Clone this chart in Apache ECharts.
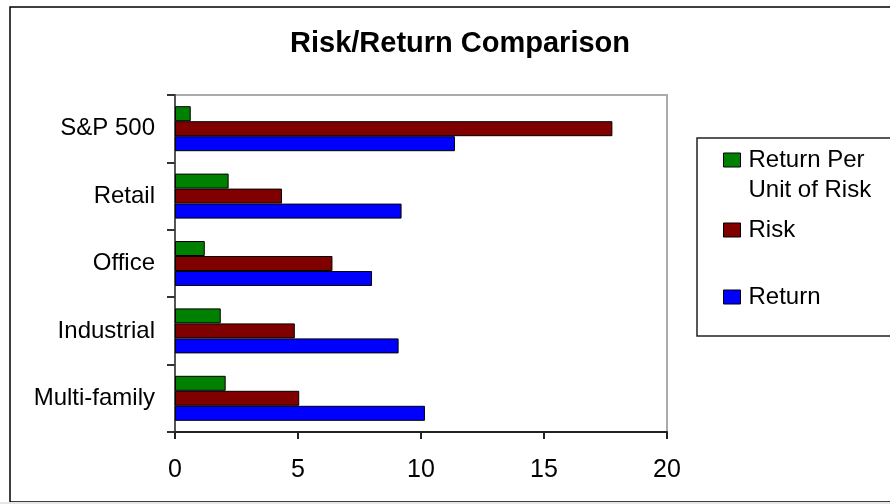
<!DOCTYPE html>
<html>
<head>
<meta charset="utf-8">
<script src="https://cdn.jsdelivr.net/npm/echarts@6/dist/echarts.min.js"></script>
<style>
  html, body { margin: 0; padding: 0; background: #fff; }
  #chart { width: 890px; height: 504px; }
</style>
</head>
<body>
<div id="chart"></div>
<script>
// Categories listed top to bottom
var categories = ['S&P 500', 'Retail', 'Office', 'Industrial', 'Multi-family'];
var returnPerRisk = [0.64, 2.18, 1.21, 1.86, 2.06];
var risk = [17.78, 4.35, 6.40, 4.87, 5.05];
var returns = [11.38, 9.21, 8.01, 9.09, 10.16];
var xTicks = [0, 5, 10, 15, 20];

var FONT = '"Liberation Sans", Arial, sans-serif';

var chart = echarts.init(document.getElementById('chart'), null, { renderer: 'canvas' });

function barSeries(name, data, color) {
  return {
    name: name,
    type: 'bar',
    data: data,
    barWidth: 15,
    barGap: '0%',
    itemStyle: { color: color, borderColor: '#000', borderWidth: 1 },
    emphasis: { disabled: true }
  };
}

// One legend block per series so each entry can sit at its own height
function legendAt(name, top) {
  return {
    data: [name],
    orient: 'vertical',
    left: 723,
    top: top,
    padding: 0,
    icon: 'rect',
    itemWidth: 17,
    itemHeight: 14,
    selectedMode: false,
    itemStyle: { borderColor: '#000', borderWidth: 1 },
    // the long name wraps onto a second line below the swatch row;
    // a leading blank line keeps the first text line level with the swatch
    formatter: function (n) { return n === 'Return Per Unit of Risk' ? ' \nReturn Per\nUnit of Risk' : n; },
    textStyle: {
      fontFamily: FONT, fontSize: 24, lineHeight: 30, color: '#000',
      padding: [0, 0, 0, 3]
    }
  };
}

chart.setOption({
  animation: false,
  backgroundColor: '#fff',
  title: {
    text: 'Risk/Return Comparison',
    left: 460,
    top: 27,
    textAlign: 'center',
    padding: 0,
    textStyle: { fontFamily: FONT, fontSize: 29, fontWeight: 'bold', color: '#000', lineHeight: 34 }
  },
  legend: [
    legendAt('Return Per Unit of Risk', 115),
    legendAt('Risk', 215),
    legendAt('Return', 282)
  ],
  grid: {
    left: 175, top: 95, right: 223, bottom: 72,
    show: true, borderColor: '#aaa', borderWidth: 2, backgroundColor: '#fff'
  },
  xAxis: {
    type: 'value',
    min: xTicks[0],
    max: xTicks[xTicks.length - 1],
    interval: 5,
    axisLine: { show: true, lineStyle: { color: '#222', width: 2 } },
    axisTick: { show: true, length: 7, lineStyle: { color: '#222', width: 2 } },
    splitLine: { show: false },
    axisLabel: { fontFamily: FONT, fontSize: 25, color: '#000', margin: 26 }
  },
  yAxis: {
    type: 'category',
    data: categories,
    inverse: true,
    axisLine: { show: true, lineStyle: { color: '#555', width: 2 } },
    axisTick: { show: true, length: 8, lineStyle: { color: '#333', width: 2 } },
    axisLabel: { fontFamily: FONT, fontSize: 24, color: '#000', margin: 20 }
  },
  series: [
    barSeries('Return Per Unit of Risk', returnPerRisk, '#008000'),
    barSeries('Risk', risk, '#800000'),
    barSeries('Return', returns, '#0000ff')
  ],
  graphic: [
    { type: 'rect', silent: true, z: -10,
      shape: { x: 10, y: 7, width: 900, height: 495 },
      style: { fill: 'none', stroke: '#000', lineWidth: 1.5 } },
    { type: 'rect', silent: true, z: -10,
      shape: { x: 697, y: 138, width: 220, height: 198 },
      style: { fill: 'none', stroke: '#222', lineWidth: 1.5 } },
    { type: 'rect', silent: true, z: -10,
      shape: { x: 0, y: 502, width: 890, height: 2 },
      style: { fill: '#e6e6e6' } }
  ]
});
</script>
</body>
</html>
